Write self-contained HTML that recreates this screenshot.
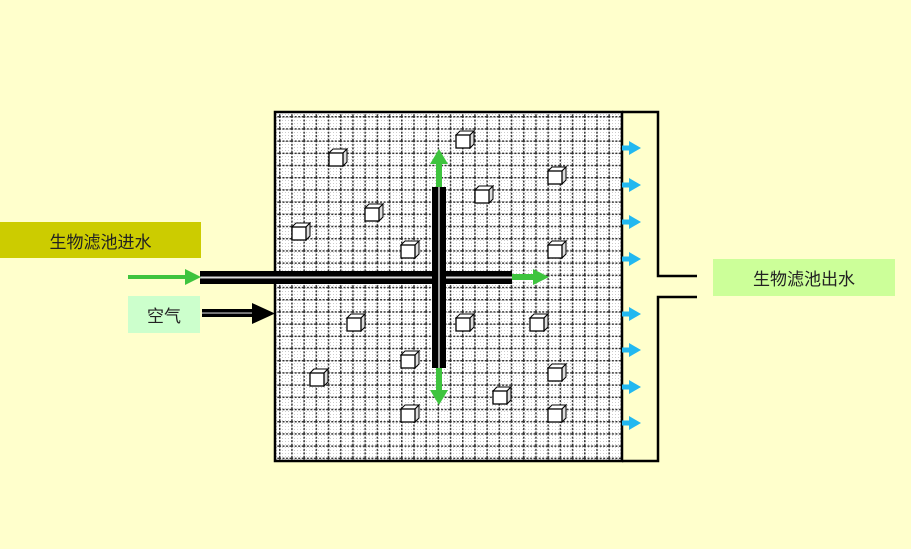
<!DOCTYPE html>
<html><head><meta charset="utf-8"><style>
body{margin:0;background:#ffffcc;}
.lbl{position:absolute;font-family:"Liberation Sans","Noto Sans CJK SC",sans-serif;font-size:17px;color:#222;display:flex;align-items:center;justify-content:center;}
</style></head><body>
<div style="position:relative;width:911px;height:549px;overflow:hidden;background:#ffffcc">
<svg width="911" height="549" style="position:absolute;left:0;top:0">
<defs>
<pattern id="dots" width="3" height="3" patternUnits="userSpaceOnUse"><rect width="3" height="3" fill="#fff"/><rect width="1" height="1" fill="#ccc"/></pattern>
<pattern id="grid" x="279" y="116" width="12.2" height="12.2" patternUnits="userSpaceOnUse">
<line x1="0" y1="0.75" x2="12.2" y2="0.75" stroke="#333" stroke-width="1.5" stroke-dasharray="2,1.5"/>
<line x1="0.75" y1="0" x2="0.75" y2="12.2" stroke="#333" stroke-width="1.5" stroke-dasharray="2,1.5"/>
</pattern>
<g id="cube"><polygon points="0,4 4,0 18,0 14,4" fill="#fff" stroke="#000" stroke-width="1"/><polygon points="14,4 18,0 18,13 14,17" fill="#ddd" stroke="#000" stroke-width="1"/><rect x="0" y="4" width="14" height="13" fill="#fff" stroke="#000" stroke-width="1.3"/></g>
<g id="cy"><polygon points="622,-2.5 629,-2.5 629,-7 641,0 629,7 629,2.5 622,2.5" fill="#22b8f0"/></g>
</defs>
<rect x="275" y="112" width="347" height="349" fill="url(#dots)"/>
<rect x="275" y="112" width="347" height="349" fill="url(#grid)"/>
<rect x="275" y="112" width="347" height="349" fill="none" stroke="#000" stroke-width="2.5"/>
<polyline points="622,112 658,112 658,276 697,276" fill="none" stroke="#000" stroke-width="2.5"/>
<polyline points="697,297 658,297 658,461 622,461" fill="none" stroke="#000" stroke-width="2.5"/>
<g>
<use href="#cube" x="329" y="149"/><use href="#cube" x="456" y="131"/><use href="#cube" x="548" y="167"/><use href="#cube" x="475" y="186"/><use href="#cube" x="365" y="204"/><use href="#cube" x="292" y="223"/><use href="#cube" x="401" y="241"/><use href="#cube" x="548" y="241"/><use href="#cube" x="347" y="314"/><use href="#cube" x="456" y="314"/><use href="#cube" x="530" y="314"/><use href="#cube" x="401" y="351"/><use href="#cube" x="310" y="369"/><use href="#cube" x="548" y="364"/><use href="#cube" x="493" y="387"/><use href="#cube" x="401" y="405"/><use href="#cube" x="548" y="405"/>
</g>
<!-- pipes -->
<rect x="200" y="271" width="312" height="13" fill="#000"/>
<rect x="200" y="276.5" width="312" height="2" fill="#ddd"/>
<rect x="432" y="187" width="14" height="181" fill="#000"/>
<rect x="438" y="187" width="2" height="181" fill="#999"/>
<!-- green arrows -->
<polygon points="128,275 185,275 185,269 201,277 185,285 185,279 128,279" fill="#3ec43e"/>
<polygon points="512,274 533,274 533,269 549,277 533,285 533,280 512,280" fill="#3ec43e"/>
<polygon points="436,187 436,164 430,164 439,149 448,164 442,164 442,187" fill="#3ec43e"/>
<polygon points="436,368 436,390 430,390 439,405 448,390 442,390 442,368" fill="#3ec43e"/>
<!-- air arrow -->
<rect x="202" y="309" width="55" height="8" fill="#000"/>
<rect x="202" y="312.3" width="55" height="1.5" fill="#999"/>
<polygon points="252,303 275,313.5 252,324" fill="#000"/>
<use href="#cy" y="148"/><use href="#cy" y="185"/><use href="#cy" y="222"/><use href="#cy" y="259"/><use href="#cy" y="314"/><use href="#cy" y="350"/><use href="#cy" y="387"/><use href="#cy" y="423"/>
</svg>
<div class="lbl" style="left:0;top:222px;width:201px;height:36px;background:#cccc00">生物滤池进水</div>
<div class="lbl" style="left:128px;top:296px;width:72px;height:37px;background:#ccffcc">空气</div>
<div class="lbl" style="left:713px;top:259px;width:182px;height:37px;background:#ccff99">生物滤池出水</div>
</div>
</body></html>
